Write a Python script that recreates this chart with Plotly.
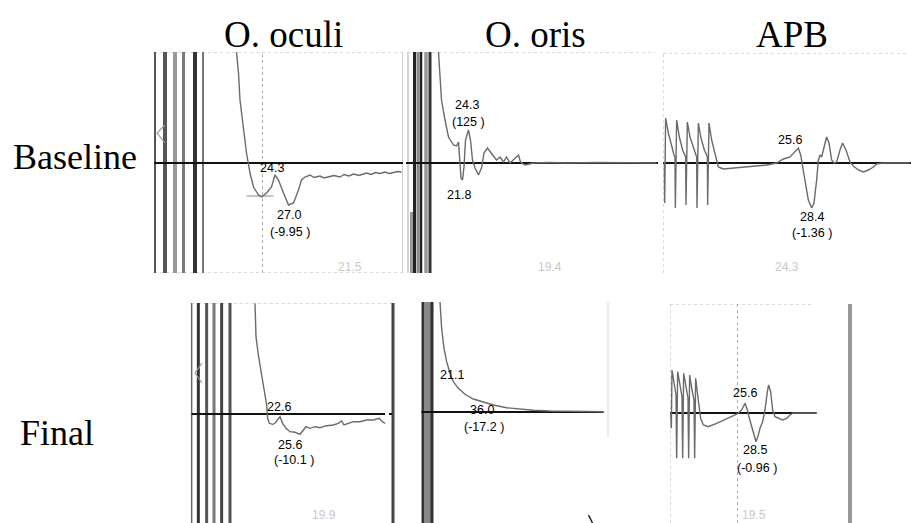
import plotly.graph_objects as go

# ---------------- DATA (time in ms, amplitude in arbitrary units, baseline = 0) ----------------
titles = ["O. oculi", "O. oris", "APB"]
rows = ["Baseline", "Final"]

# Baseline O. oculi
oc_b_t = [16.5, 16.9, 17.2, 17.9, 18.5, 19.2, 19.9, 20.9, 21.5, 22.5, 23.5, 24.2, 24.9, 25.9, 26.9,
          27.9, 28.9, 29.5, 30.2, 31.2, 32.0, 33.2, 34.0, 35.2, 36.0, 37.2, 38.0, 39.0, 39.9, 41.0,
          42.5, 43.4, 44.3, 45.2, 46.2, 47.0, 47.9, 48.8, 49.5]
oc_b_v = [11.1, 9.0, 6.3, 3.6, 1.0, -1.0, -2.4, -3.2, -3.4, -3.0, -2.4, -1.2, -1.7, -3.0, -4.2,
          -4.0, -2.7, -1.7, -1.4, -1.2, -1.45, -1.3, -1.5, -1.35, -1.25, -1.4, -1.15, -1.3, -1.1, -1.25,
          -1.0, -1.15, -0.95, -1.05, -0.9, -1.05, -0.95, -0.85, -0.9]
oc_b_stim = [0.2, 2.2, 4.2, 5.9, 8.2, 9.8]

# Baseline O. oris
or_b_t = [6.5, 6.7, 7.1, 7.8, 8.5, 9.5, 10.1, 10.5, 10.8, 11.0, 11.3, 11.6, 11.9, 12.5, 12.9, 13.3,
          13.8, 14.5, 15.1, 15.6, 16.3, 16.8, 17.3, 18.1, 18.8, 19.5, 20.1, 20.8, 21.8, 22.5, 22.9,
          23.8, 25.5, 28.8, 32.1, 38.1, 50.1]
or_b_v = [11.1, 9.0, 6.3, 4.3, 2.6, 1.8, 1.7, 2.1, 0.3, -1.5, -1.7, -0.4, 2.3, 3.3, 2.3, 0.3,
          -0.5, -1.2, -0.5, 1.0, 1.5, 1.1, 0.8, 0.3, 0.6, 0.1, 0.6, 0.0, 0.5, 0.8, 0.1,
          -0.2, 0.0, 0.05, 0.0, 0.05, 0.0]
or_b_stim = [1.1, 1.7, 2.4, 3.0, 4.0, 4.8]
or_b_stim_top = [-4.9, None, None, None, None, None]

# Baseline APB
ap_b_t = [0.1, 0.27, 0.33, 0.53, 1.07, 1.73, 2.2, 2.4, 2.47, 2.73, 3.27, 3.93, 4.4, 4.53, 4.6, 4.87,
          5.4, 6.07, 6.6, 6.73, 6.8, 7.07, 7.6, 8.27, 8.73, 8.87, 8.93, 9.2, 9.73, 10.4, 11.07, 12.07,
          14.07, 17.4, 20.73, 22.73, 24.07, 25.4, 26.4, 27.07, 27.53, 27.93, 28.4, 29.07, 29.73, 30.2,
          30.73, 31.07, 31.4, 31.73, 32.07, 32.73, 33.2, 33.73, 34.2, 34.73, 35.4, 35.93, 36.6, 37.4,
          38.07, 39.07, 40.07, 41.07, 42.07, 42.73, 44.07, 49.4]
ap_b_v = [0.0, 0.0, -4.0, 4.5, 3.0, 1.6, 0.8, 0.6, -4.5, 4.3, 2.6, 1.3, 0.8, 0.6, -4.2, 4.1,
          2.6, 1.6, 0.8, 0.6, -4.5, 4.0, 2.5, 1.3, 0.8, 0.6, -4.2, 4.0, 2.3, 0.8, -0.4, -0.6,
          -0.5, -0.4, -0.2, 0.0, 0.4, 0.6, 1.1, 1.5, 0.8, -0.4, -2.0, -3.7, -4.5, -4.0,
          -1.7, 0.3, 0.8, 0.6, 1.3, 2.6, 2.0, 0.3, 0.0, 0.1, 1.3, 2.0, 1.3, 0.1,
          -0.3, -0.7, -0.9, -0.7, -0.4, -0.1, 0.0, 0.0]

# Final O. oculi
oc_f_t = [13.0, 13.13, 13.2, 13.67, 14.33, 15.0, 15.33, 15.53, 15.87, 16.53, 17.0, 17.47, 18.0, 18.53,
          19.2, 20.0, 21.0, 22.0, 22.67, 23.2, 24.0, 25.0, 26.0, 27.33, 28.67, 29.67, 30.33, 30.8,
          31.67, 32.67, 34.0, 35.33, 36.67, 37.87, 38.33, 39.0]
oc_f_v = [11.07, 9.23, 7.73, 5.9, 3.9, 2.23, 0.9, -0.43, -0.93, -1.03, -0.93, -0.6, -0.27, -0.93,
          -1.43, -1.77, -1.83, -2.03, -1.6, -1.27, -1.43, -1.27, -1.37, -1.17, -1.1, -0.93, -0.7, -1.1,
          -0.93, -0.77, -0.77, -0.6, -0.6, -0.43, -0.7, -0.93]
oc_f_stim = [0.33, 1.67, 3.33, 4.8, 6.33, 8.0]

# Final O. oris
or_f_t = [4.0, 4.33, 4.8, 5.33, 6.0, 6.67, 7.67, 9.0, 10.67, 12.67, 14.67, 17.33, 20.0, 22.67, 26.0,
          29.33, 36.67]
or_f_v = [11.03, 8.37, 6.37, 5.03, 3.87, 3.03, 2.37, 1.77, 1.3, 0.97, 0.7, 0.43, 0.27, 0.17, 0.1,
          0.07, 0.03]
or_f_stim = [0.6, 1.2, 1.8, 2.4]

# Final APB
ap_f_t = [0.13, 0.27, 0.4, 0.8, 1.2, 1.33, 1.53, 2.0, 2.4, 2.53, 2.73, 3.2, 3.6, 3.73, 3.93, 4.4,
          4.8, 4.93, 5.13, 5.53, 5.87, 6.13, 6.67, 7.67, 9.33, 11.33, 13.0, 13.67, 14.33, 15.0,
          15.47, 15.87, 16.33, 16.8, 17.2, 17.67, 18.0, 18.53, 19.0, 19.47, 19.73, 20.13, 20.53,
          21.0, 21.67, 22.53, 23.33, 24.0, 24.67, 26.67, 29.33]
ap_f_v = [0.0, -1.53, 4.3, 3.13, 1.8, -4.53, 4.13, 2.8, 1.63, -4.53, 3.97, 2.63, 1.47, -4.53, 3.8, 2.3,
          1.3, -4.53, 3.47, 1.8, 0.47, -0.53, -1.2, -1.37, -1.03, -0.6, -0.2, 0.0, 0.3, 0.97,
          0.3, -0.53, -1.37, -2.37, -2.87, -2.2, -1.53, -0.87, 0.3, 2.13, 2.8, 2.13, 0.3,
          -0.37, -0.53, -0.7, -0.53, -0.2, 0.0, 0.0, 0.0]

# Peak labels: (text, t, v) per panel
labels = [
    [("24.3", 23.5, -0.5), ("27.0", 26.9, -5.2), ("(-9.95 )", 27.2, -6.9)],
    [("24.3", 12.1, 5.8), ("(125 )", 12.5, 4.1), ("21.8", 10.5, -3.2)],
    [("25.6", 25.4, 2.3), ("28.4", 29.7, -5.4), ("(-1.36 )", 29.7, -7.0)],
    [("22.6", 17.7, 0.7), ("25.6", 20.0, -3.1), ("(-10.1 )", 20.7, -4.6)],
    [("21.1", 6.3, 3.7), ("36.0", 12.3, 0.2), ("(-17.2 )", 12.7, -1.5)],
    [("25.6", 15.0, 2.0), ("28.5", 17.0, -3.7), ("(-0.96 )", 17.3, -5.5)],
]
# faint screen readouts
faint = [("21.5", 39.2, -10.4), ("19.4", 28.8, -10.4), ("24.3", 24.7, -10.4),
         ("19.9", 26.7, -10.1), ("", 0, 0), ("19.5", 16.7, -10.2)]

# baseline extents (ms)
base_ext = [(0, 49.8), (0, 50.4), (0, 49.6), (0.33, 39.0), (0.3, 36.7), (0, 29.3)]
cursor_t = {0: 21.7, 5: 13.5}

# ---------------- LAYOUT (pixel boxes: left, right, top, bottom, baseline) ----------------
W, H = 911, 523
PX_MS, PX_UNIT = 5.0, 10.0
boxes = [(154, 403, 52, 273, 163), (406, 658, 52, 273, 163), (663, 911, 53, 273, 163),
         (190, 395, 303, 523, 414), (420, 610, 302, 523, 412), (670, 911, 304, 523, 413)]

fig = go.Figure()
layout = dict(width=W, height=H, margin=dict(l=0, r=0, t=0, b=0), paper_bgcolor="white",
              plot_bgcolor="rgba(0,0,0,0)", showlegend=False)
ranges = []
for i, (l, r, t, b, base) in enumerate(boxes):
    k = "" if i == 0 else str(i + 1)
    xr = [0, (r - l) / PX_MS]
    yr = [(base - b) / PX_UNIT, (base - t) / PX_UNIT]
    ranges.append((xr, yr))
    layout["xaxis" + k] = dict(domain=[l / W, r / W], range=xr, visible=False, fixedrange=True,
                               anchor="y" + k)
    layout["yaxis" + k] = dict(domain=[1 - b / H, 1 - t / H], range=yr, visible=False,
                               fixedrange=True, anchor="x" + k)
fig.update_layout(**layout)


def ax(i):
    k = "" if i == 0 else str(i + 1)
    return dict(xaxis="x" + k, yaxis="y" + k)


def seg(i, xs, ys, color, width, dash="solid"):
    fig.add_trace(go.Scatter(x=xs, y=ys, mode="lines", hoverinfo="skip", cliponaxis=True,
                             line=dict(color=color, width=width, dash=dash),
                             xaxis=ax(i)["xaxis"], yaxis=ax(i)["yaxis"]))


FR = "#b5b5b5"
# frames
(x0, x1), (y0, y1) = ranges[0]
seg(0, [x0, x0], [y0, y1], "#999", 1.2)
seg(0, [x0, x1], [y1, y1], FR, 1, "dot")
seg(0, [x0, x1], [y0, y0], FR, 1, "dot")
seg(0, [x1 - 0.1, x1 - 0.1], [y0, y1], "#d0d0d0", 1)
(x0, x1), (y0, y1) = ranges[1]
seg(1, [0.4, 0.4], [y0, y1], "#aaa", 1)
seg(1, [0.4, x1 - 0.5], [y1, y1], FR, 1, "dot")
(x0, x1), (y0, y1) = ranges[2]
seg(2, [0, 0], [y0, y1], FR, 1, "dot")
seg(2, [0, x1 - 1], [y1, y1], FR, 1, "dot")
(x0, x1), (y0, y1) = ranges[3]
seg(3, [0.33, 40.6], [y1, y1], FR, 1, "dot")
seg(3, [40.6, 40.6], [y0, y1], "#444", 3)
(x0, x1), (y0, y1) = ranges[4]
seg(4, [37.6, 37.6], [-2.6, y1], "#d5d5d5", 1)
seg(4, [33.7, 34.5], [-10.3, -11.1], "#222", 1.5)
(x0, x1), (y0, y1) = ranges[5]
seg(5, [0, 0], [y0, y1], FR, 1, "dot")
seg(5, [0, 28.6], [y1, y1], FR, 1, "dot")
seg(5, [36.0, 36.0], [y0, y1], "#999", 4)

# cursors
for i, tc in cursor_t.items():
    (x0, x1), (y0, y1) = ranges[i]
    seg(i, [tc, tc], [y0, y1], "#b0b0b0", 1, "dot")
seg(0, [18.5, 23.9], [-3.3, -3.3], "#888", 1)

# stimulus artefacts
stim_sets = [
    (0, oc_b_stim, [None] * 6, ["#555", "#555", "#9a9a9a", "#7a7a7a", "#333", "#777"], [2, 4, 4, 3, 4, 2]),
    (1, or_b_stim, or_b_stim_top, ["#999", "#222", "#888", "#222", "#999", "#333"], [3, 3, 3, 2.5, 3.5, 3]),
    (3, oc_f_stim, [None] * 6, ["#666", "#333", "#555", "#777", "#444", "#555"], [1.5, 3, 3, 3, 3, 3]),
    (4, or_f_stim, [None] * 4, ["#333", "#888", "#888", "#333"], [3, 4, 4, 3]),
]
for i, ts, tops, cols, wids in stim_sets:
    (x0, x1), (y0, y1) = ranges[i]
    for tt, tp, c, w in zip(ts, tops, cols, wids):
        seg(i, [tt, tt], [y0, y1 if tp is None else tp], c, w)

# little cursor triangles
seg(0, [2.2, 0.6, 2.2], [3.8, 3.0, 2.0], "#999", 1.2)
seg(3, [2.4, 1.0, 2.4], [5.1, 4.1, 3.1], "#999", 1.2)

# baselines
for i, (a, b) in enumerate(base_ext):
    seg(i, [a, b], [0, 0], "#111", 2)
seg(3, [39.8, 40.4], [0, 0], "#111", 2)

# traces
TR = "#6a6a6a"
for i, (tt, vv) in enumerate([(oc_b_t, oc_b_v), (or_b_t, or_b_v), (ap_b_t, ap_b_v),
                              (oc_f_t, oc_f_v), (or_f_t, or_f_v), (ap_f_t, ap_f_v)]):
    seg(i, tt, vv, TR, 1.4)

# annotations
ann = []
for i, labs in enumerate(labels):
    k = "" if i == 0 else str(i + 1)
    for txt, tt, vv in labs:
        ann.append(dict(text=txt, x=tt, y=vv, xref="x" + k, yref="y" + k, showarrow=False,
                        font=dict(family="Liberation Sans", size=12.5, color="#000"),
                        xanchor="center", yanchor="middle"))
    txt, tt, vv = faint[i]
    if txt:
        ann.append(dict(text=txt, x=tt, y=vv, xref="x" + k, yref="y" + k, showarrow=False,
                        font=dict(family="Liberation Sans", size=12, color="#c8c8c8"),
                        xanchor="center", yanchor="middle"))

title_x = [283, 535, 792]
for txt, xp in zip(titles, title_x):
    ann.append(dict(text=txt, x=xp / W, y=1 - 35 / H, xref="paper", yref="paper", showarrow=False,
                    font=dict(family="Liberation Serif", size=37, color="#000"),
                    xanchor="center", yanchor="middle"))
for txt, xp, yp in zip(rows, [75, 57], [157, 433]):
    ann.append(dict(text=txt, x=xp / W, y=1 - yp / H, xref="paper", yref="paper", showarrow=False,
                    font=dict(family="Liberation Serif", size=36, color="#000"),
                    xanchor="center", yanchor="middle"))
fig.update_layout(annotations=ann)

fig.write_html("out.html")
